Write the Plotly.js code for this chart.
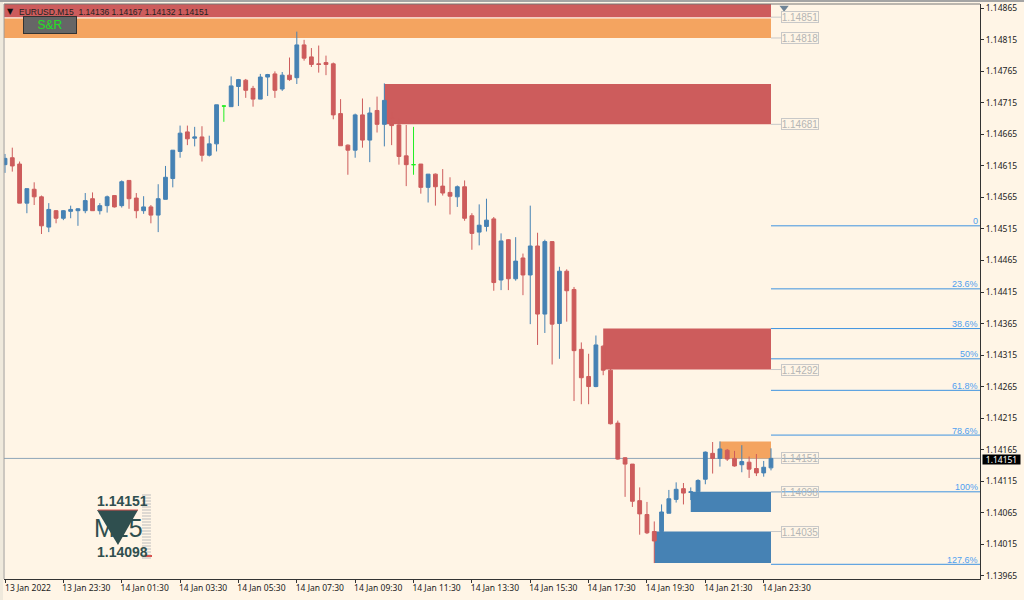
<!DOCTYPE html>
<html><head><meta charset="utf-8">
<script src="https://cdn.plot.ly/plotly-3.0.1.min.js"></script>
<style>html,body{margin:0;padding:0;background:#FFF5E6;overflow:hidden}#c{width:1024px;height:600px}</style>
</head><body><div id="c"></div>
<script>
const openP=[1.14617,1.14628,1.14618,1.14556,1.14578,1.14566,1.14518,1.14544,1.14532,1.14543,
1.14544,1.14544,1.14563,1.14544,1.14552,1.14568,1.14552,1.14592,1.14564,1.14544,
1.14550,1.14537,1.14562,1.14595,1.14638,1.14669,1.14659,1.14661,1.14632,1.14650,
1.14710,1.14709,1.14741,1.14751,1.14738,1.14721,1.14756,1.14761,1.14737,1.14759,
1.14755,1.14807,1.14788,1.14777,1.14779,1.14777,1.14698,1.14648,1.14640,1.14696,
1.14656,1.14703,1.14681,1.14691,1.14680,1.14631,1.14617,1.14618,1.14581,1.14602,
1.14583,1.14573,1.14566,1.14582,1.14536,1.14510,1.14519,1.14531,1.14434,1.14498,
1.14436,1.14469,1.14442,1.14488,1.14380,1.14495,1.14365,1.14448,1.14419,1.14324,
1.14281,1.14265,1.14329,1.14291,1.14207,1.14152,1.14142,1.14084,1.14062,1.14035,
1.14035,1.14064,1.14086,1.14103,1.14097,1.14098,1.14118,1.14159,1.14151,1.14164,
1.14151,1.14141,1.14145,1.14135,1.14128,1.14136];
const highP=[1.14634,1.14644,1.14622,1.14579,1.14589,1.14568,1.14556,1.14545,1.14545,1.14552,
1.14548,1.14572,1.14573,1.14556,1.14568,1.14568,1.14592,1.14592,1.14572,1.14567,
1.14553,1.14586,1.14615,1.14640,1.14679,1.14679,1.14677,1.14678,1.14663,1.14712,
1.14711,1.14757,1.14753,1.14753,1.14742,1.14761,1.14761,1.14765,1.14764,1.14787,
1.14828,1.14815,1.14802,1.14806,1.14790,1.14779,1.14721,1.14649,1.14698,1.14722,
1.14708,1.14725,1.14746,1.14700,1.14690,1.14680,1.14677,1.14618,1.14602,1.14603,
1.14610,1.14597,1.14584,1.14592,1.14540,1.14554,1.14563,1.14534,1.14508,1.14499,
1.14502,1.14476,1.14552,1.14509,1.14498,1.14495,1.14455,1.14451,1.14423,1.14335,
1.14317,1.14346,1.14331,1.14293,1.14211,1.14153,1.14142,1.14105,1.14082,1.14051,
1.14078,1.14101,1.14113,1.14112,1.14105,1.14118,1.14162,1.14177,1.14178,1.14166,
1.14163,1.14172,1.14154,1.14158,1.14147,1.14167];
const lowP=[1.14604,1.14606,1.14556,1.14540,1.14553,1.14507,1.14510,1.14524,1.14529,1.14532,
1.14520,1.14540,1.14544,1.14538,1.14541,1.14549,1.14549,1.14547,1.14532,1.14539,
1.14524,1.14510,1.14562,1.14581,1.14628,1.14648,1.14646,1.14622,1.14630,1.14638,
1.14685,1.14709,1.14710,1.14723,1.14709,1.14721,1.14726,1.14723,1.14734,1.14750,
1.14745,1.14782,1.14772,1.14763,1.14759,1.14689,1.14647,1.14601,1.14628,1.14644,
1.14621,1.14668,1.14646,1.14648,1.14617,1.14583,1.14601,1.14571,1.14557,1.14552,
1.14568,1.14538,1.14550,1.14528,1.14482,1.14489,1.14511,1.14417,1.14418,1.14418,
1.14433,1.14410,1.14364,1.14331,1.14350,1.14300,1.14309,1.14368,1.14242,1.14237,
1.14237,1.14264,1.14283,1.14205,1.14149,1.14090,1.14074,1.14030,1.14031,1.13985,
1.14035,1.14064,1.14081,1.14078,1.14085,1.14090,1.14110,1.14127,1.14138,1.14147,
1.14138,1.14129,1.14120,1.14123,1.14122,1.14132];
const closeP=[1.14627,1.14615,1.14556,1.14579,1.14566,1.14520,1.14546,1.14532,1.14544,1.14546,
1.14547,1.14560,1.14544,1.14552,1.14566,1.14550,1.14590,1.14563,1.14544,1.14550,
1.14537,1.14563,1.14597,1.14640,1.14667,1.14658,1.14661,1.14632,1.14650,1.14712,
1.14710,1.14742,1.14752,1.14735,1.14721,1.14756,1.14760,1.14735,1.14759,1.14752,
1.14807,1.14786,1.14776,1.14776,1.14776,1.14696,1.14647,1.14640,1.14696,1.14656,
1.14699,1.14681,1.14719,1.14679,1.14630,1.14617,1.14617,1.14581,1.14602,1.14582,
1.14572,1.14567,1.14582,1.14532,1.14508,1.14521,1.14529,1.14430,1.14496,1.14436,
1.14464,1.14442,1.14488,1.14380,1.14495,1.14364,1.14448,1.14417,1.14322,1.14279,
1.14265,1.14331,1.14291,1.14206,1.14150,1.14142,1.14083,1.14063,1.14033,1.14020,
1.14066,1.14087,1.14102,1.14096,1.14098,1.14116,1.14161,1.14151,1.14166,1.14150,
1.14139,1.14146,1.14134,1.14128,1.14137,1.14151];

const timeTickBars=[0,8,16,24,32,40,48,56,64,72,80,88,96,104];
const timeTickLabels=["13 Jan 2022","13 Jan 23:30","14 Jan 01:30","14 Jan 03:30","14 Jan 05:30","14 Jan 07:30","14 Jan 09:30","14 Jan 11:30","14 Jan 13:30","14 Jan 15:30","14 Jan 17:30","14 Jan 19:30","14 Jan 21:30","14 Jan 23:30"];
const priceTicks=["1.14865","1.14815","1.14765","1.14715","1.14665","1.14615","1.14565","1.14515","1.14465","1.14415","1.14365","1.14315","1.14265","1.14215","1.14165","1.14115","1.14065","1.14015","1.13965"];

const zoneStartBar=[0,0,52,82,98,94,89];
const zoneEndBar=[105,105,105,105,105,105,105];
const zoneHigh=[1.14872,1.14849,1.14745,1.14357,1.14178,1.14098,1.14035];
const zoneLow=[1.14851,1.14818,1.14681,1.14292,1.14151,1.14066,1.13985];
const zoneColor=["#CD5C5C","#F4A460","#CD5C5C","#CD5C5C","#F4A460","#4682B4","#4682B4"];

const labelPrices=[1.14851,1.14818,1.14681,1.14292,1.14151,1.14098,1.14035];
const labelTexts=["1.14851","1.14818","1.14681","1.14292","1.14151","1.14098","1.14035"];

const fibPrices=[1.14520,1.14420,1.14357,1.14309,1.14259,1.14188,1.14098,1.13983];
const fibLabels=["0","23.6%","38.6%","50%","61.8%","78.6%","100%","127.6%"];

const lastPrice=1.14151;
const headerText="EURUSD.M15  1.14136 1.14167 1.14132 1.14151";
const dojiBars=[30,56];

const font="Liberation Sans, Arial, sans-serif";
const axisFont="Noto Sans, Liberation Sans, sans-serif";
const BLUE="#4682B4",RED="#CD5C5C",LIME="#22EE22";
const PX=(x)=>(x-4)/976, PY=(y)=>1-(y-4)/575;
const XMAX=133.65;

function candle(idx,up,dn){
  return {type:"candlestick",x:idx,open:idx.map(i=>openP[i]),high:idx.map(i=>highP[i]),low:idx.map(i=>lowP[i]),close:idx.map(i=>closeP[i]),
    increasing:{line:{color:up,width:1},fillcolor:up},decreasing:{line:{color:dn,width:1},fillcolor:dn},
    whiskerwidth:0,hoverinfo:"skip",showlegend:false};
}
const all=openP.map((_,i)=>i);
const normal=all.filter(i=>!dojiBars.includes(i));
const traces=[
  candle(normal.filter(i=>closeP[i]>=openP[i]),BLUE,BLUE),
  candle(normal.filter(i=>closeP[i]<openP[i]),RED,RED),
  candle(dojiBars,LIME,LIME),
  {type:"scatter",mode:"markers",x:[106.8],y:[1.14866],marker:{symbol:"triangle-down",size:8,color:"#6E8496"},cliponaxis:false,hoverinfo:"skip",showlegend:false}
];

const shapes=[];
shapes.push({type:"rect",layer:"below",xref:"paper",yref:"paper",x0:PX(0),x1:PX(1024),y0:PY(0),y1:PY(2),fillcolor:"#A4A4A4",line:{width:0}});
shapes.push({type:"rect",layer:"below",xref:"paper",yref:"paper",x0:PX(0),x1:PX(3),y0:PY(2),y1:PY(600),fillcolor:"#EFE9DC",line:{width:0}});
zoneStartBar.forEach((s,i)=>shapes.push({type:"rect",layer:"below",xref:"x",yref:"y",x0:s===0?-0.137:s,x1:zoneEndBar[i],y0:zoneLow[i],y1:zoneHigh[i],fillcolor:zoneColor[i],line:{width:0}}));
shapes.push({type:"line",layer:"below",xref:"paper",yref:"y",x0:0,x1:1,y0:lastPrice,y1:lastPrice,line:{color:"#8FA6B8",width:1}});
fibPrices.forEach(p=>shapes.push({type:"line",layer:"below",xref:"x",yref:"y",x0:105,x1:XMAX,y0:p,y1:p,line:{color:"#3F93E0",width:1}}));
labelPrices.forEach(p=>shapes.push({type:"line",layer:"below",xref:"x",yref:"y",x0:105,x1:106.4,y0:p,y1:p,line:{color:"#C8C8C8",width:1}}));
shapes.push({type:"line",xref:"paper",yref:"paper",x0:0,x1:1,y0:1,y1:1,line:{color:"#777",width:1}});
shapes.push({type:"line",xref:"paper",yref:"paper",x0:0,x1:0,y0:0,y1:1,line:{color:"#999",width:1}});
let hatch="";
for(let y=495;y<=558;y+=3){hatch+=`M ${PX(142)} ${PY(y)} L ${PX(151)} ${PY(y)} `;}
shapes.push({type:"path",xref:"paper",yref:"paper",path:hatch,line:{color:"#BDBDBD",width:1}});
shapes.push({type:"path",xref:"paper",yref:"paper",path:`M ${PX(97)} ${PY(510)} L ${PX(138)} ${PY(510)} L ${PX(118)} ${PY(545)} Z`,fillcolor:"#2F4F4F",line:{width:0}});
shapes.push({type:"line",xref:"paper",yref:"paper",x0:PX(98),x1:PX(138),y0:PY(510),y1:PY(510),line:{color:"#D9534F",width:1}});
shapes.push({type:"line",xref:"paper",yref:"paper",x0:PX(145),x1:PX(152),y0:PY(556),y1:PY(556),line:{color:"#D9534F",width:2}});

const annotations=[];
labelPrices.forEach((p,i)=>annotations.push({xref:"x",yref:"y",x:106.4,y:p,xanchor:"left",yanchor:"middle",text:labelTexts[i],showarrow:false,font:{family:font,size:10,color:"#B5B5B5"},bordercolor:"#C8C8C8",borderwidth:1,borderpad:0,width:36,height:10,bgcolor:"rgba(0,0,0,0)"}));
fibPrices.forEach((p,i)=>annotations.push({xref:"paper",yref:"y",x:1,y:p,xshift:-1,yshift:-1.5,xanchor:"right",yanchor:"bottom",text:fibLabels[i],showarrow:false,font:{family:font,size:9,color:"#4FA0F0"},borderpad:0}));
annotations.push({xref:"paper",yref:"paper",x:PX(18),y:PY(11.5),xanchor:"left",yanchor:"middle",text:headerText,showarrow:false,font:{family:font,size:8.5,color:"#222"},borderpad:0});
annotations.push({xref:"paper",yref:"paper",x:PX(10.5),y:PY(11.5),xanchor:"center",yanchor:"middle",text:"▼",showarrow:false,font:{family:"DejaVu Sans",size:8,color:"#111"},borderpad:0});
annotations.push({xref:"paper",yref:"paper",x:PX(50),y:PY(25),xanchor:"center",yanchor:"middle",text:"S&amp;R",showarrow:false,width:52,height:16,bgcolor:"#666666",bordercolor:"#333333",borderwidth:1,borderpad:0,font:{family:font,size:12,color:"#22E022"}});
annotations.push({xref:"paper",yref:"y",x:PX(1001),y:lastPrice,yshift:-1,xanchor:"center",yanchor:"middle",text:"1.14151",showarrow:false,width:37,height:9,bgcolor:"#000",borderpad:0,font:{family:axisFont,size:8.5,color:"#fff"}});
annotations.push({xref:"paper",yref:"paper",x:PX(122),y:PY(501),xanchor:"center",yanchor:"middle",text:"<b>1.14151</b>",showarrow:false,font:{family:font,size:14,color:"#2F4F4F"},borderpad:0});
annotations.push({xref:"paper",yref:"paper",x:PX(118),y:PY(528),xanchor:"center",yanchor:"middle",text:"M15",showarrow:false,font:{family:font,size:25,color:"#2F4F4F"},borderpad:0});
annotations.push({xref:"paper",yref:"paper",x:PX(122),y:PY(552),xanchor:"center",yanchor:"middle",text:"<b>1.14098</b>",showarrow:false,font:{family:font,size:14,color:"#2F4F4F"},borderpad:0});

const layout={
  width:1024,height:600,margin:{l:4,r:44,t:4,b:21,pad:0},
  paper_bgcolor:"#FFF5E6",plot_bgcolor:"#FFF5E6",showlegend:false,
  boxgap:0.48,boxgroupgap:0,boxmode:"overlay",
  font:{family:axisFont,size:8.5,color:"#222"},
  xaxis:{type:"linear",range:[-0.137,XMAX],rangeslider:{visible:false},showgrid:false,zeroline:false,showline:true,linecolor:"#333",linewidth:1,
    tickmode:"array",tickvals:timeTickBars,ticktext:timeTickLabels,ticks:"outside",ticklen:3,tickcolor:"#333",tickwidth:1,tickangle:0,ticklabelshift:23,ticklabelstandoff:-2,tickfont:{family:axisFont,size:8.5,color:"#222"},automargin:false},
  yaxis:{type:"linear",side:"right",range:[1.139597,1.148719],showgrid:false,zeroline:false,showline:true,linecolor:"#333",linewidth:1,
    tickmode:"array",tickvals:priceTicks.map(Number),ticktext:priceTicks,ticks:"outside",ticklen:3,tickcolor:"#333",tickwidth:1,tickfont:{family:axisFont,size:8.5,color:"#222"},automargin:false},
  shapes,annotations
};
Plotly.newPlot("c",traces,layout,{displayModeBar:false,responsive:false,staticPlot:true});
</script></body></html>
